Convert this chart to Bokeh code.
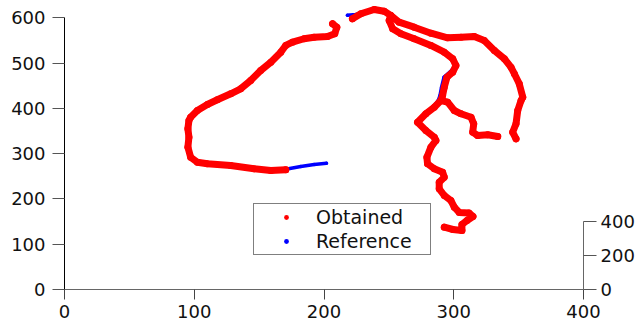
from bokeh.plotting import figure
from bokeh.models import Range1d, LinearAxis, FixedTicker, Legend, LegendItem
from bokeh.embed import file_html
from bokeh.resources import INLINE

# ---- data ----
x_ticks = [0, 100, 200, 300, 400]
y_ticks = [0, 100, 200, 300, 400, 500, 600]
y2_ticks = [0, 200, 400]

obt_left_x = [206.6, 209.9, 208.3, 202.7, 192.4, 184.6, 175.7, 170.5, 166.7, 159.0, 151.2, 143.5, 135.8, 128.1,
              117.8, 110.1, 102.4, 97.2, 95.9, 95.1, 95.9, 95.1, 97.2, 102.4, 110.1, 128.1, 146.1, 159.0, 170.5]
obt_left_y = [586.8, 579.3, 564.7, 558.7, 557.2, 553.7, 546.2, 538.9, 524.1, 502.0, 483.7, 461.6, 443.2, 432.2,
              418.9, 408.6, 395.3, 380.5, 373.2, 354.9, 336.4, 314.3, 292.2, 281.1, 277.6, 273.9, 266.6, 262.8, 264.4]

obt_outer_x = [221.9, 228.4, 238.7, 246.4, 251.5, 257.9, 269.5, 282.4, 295.3, 305.6, 315.8, 323.5, 331.3, 339.0,
               344.1, 346.7, 350.5, 353.2, 351.9, 349.3, 348.0, 345.4, 348.0]
obt_outer_y = [597.8, 608.9, 618.4, 614.6, 605.1, 590.3, 579.3, 566.0, 555.9, 557.2, 558.7, 549.9, 527.8, 509.5,
               490.9, 476.4, 454.3, 424.7, 417.4, 395.3, 365.9, 347.4, 332.8]

obt_inner_x = [251.5, 250.2, 252.9, 259.3, 269.5, 282.4, 292.7, 299.2, 301.7, 299.2, 294.8, 292.7, 291.4, 290.1,
               285.0, 278.5, 272.1, 278.5, 285.0, 286.3, 282.4, 279.3, 279.8, 285.0, 291.4, 292.7, 288.8, 288.8,
               292.7, 297.8, 300.4, 304.2, 311.7, 314.8, 310.2, 306.3, 306.3, 299.4, 292.7]
obt_inner_y = [605.1, 594.1, 575.8, 564.7, 553.7, 538.9, 524.1, 509.5, 494.7, 479.9, 468.9, 446.8, 428.4, 417.4,
               402.6, 388.0, 369.5, 351.1, 336.4, 329.1, 314.3, 292.2, 277.6, 266.6, 259.1, 248.0, 237.0, 222.4,
               207.6, 196.6, 181.8, 170.1, 168.9, 161.2, 152.4, 143.6, 130.3, 132.5, 137.6]

obt_branch_x = [290.1, 295.3, 300.4, 305.6, 313.3, 315.4, 314.6, 318.4, 326.2, 333.9]
obt_branch_y = [417.4, 413.7, 395.3, 388.0, 380.5, 365.9, 347.4, 340.1, 341.6, 337.9]

ref_left_x = [206.6, 209.9, 208.3, 202.7, 192.4, 184.6, 175.7, 170.5, 166.2, 158.3, 150.5, 142.8, 135.0, 127.3,
              117.0, 109.3, 101.6, 96.4, 95.0, 94.4, 95.2, 94.6, 97.0, 102.4, 110.1, 128.1, 146.1, 159.0, 170.5,
              182.1, 192.4, 201.9]
ref_left_y = [586.8, 579.3, 564.7, 558.7, 557.2, 553.7, 546.2, 538.9, 524.8, 502.9, 484.6, 462.5, 444.1, 433.1,
              419.8, 409.5, 396.2, 381.4, 373.2, 354.9, 336.4, 314.3, 292.2, 281.1, 277.6, 273.9, 266.6, 262.8, 265.5,
              271.6, 276.1, 278.9]

ref_outer_x = [218.1, 224.5, 229.9, 238.7, 246.4, 251.5, 257.9, 269.5, 282.4, 295.3, 305.6, 315.8, 323.5, 331.3,
               339.0, 344.1, 346.7, 350.5, 353.2, 351.9, 349.3, 348.0, 345.4, 348.0]
ref_outer_y = [605.8, 607.3, 610.6, 618.4, 614.6, 605.1, 590.3, 579.3, 566.0, 555.9, 557.2, 558.7, 549.9, 527.8,
               509.5, 490.9, 476.4, 454.3, 424.7, 417.4, 395.3, 365.9, 347.4, 332.8]

ref_inner_x = [251.5, 250.2, 252.9, 259.3, 269.5, 282.4, 292.7, 299.2, 301.7, 297.0, 292.5, 290.6, 289.4, 288.0,
               284.0, 278.0, 271.2, 278.5, 285.5, 287.0, 282.4, 279.3, 279.8, 285.0, 291.4, 292.7, 288.8, 288.8,
               292.7, 297.8, 300.4, 304.2, 311.7, 314.8, 310.2, 306.3, 306.3, 299.4, 292.7]
ref_inner_y = [605.1, 594.1, 575.8, 564.7, 553.7, 538.9, 524.1, 509.5, 494.7, 479.9, 468.9, 446.8, 428.4, 417.4,
               402.6, 388.0, 369.5, 351.1, 336.4, 329.1, 314.3, 292.2, 277.6, 266.6, 259.1, 248.0, 237.0, 222.4,
               207.6, 196.6, 181.8, 170.1, 168.9, 161.2, 152.4, 143.6, 130.3, 132.5, 137.6]

ref_branch_x = [290.1, 295.3, 300.4, 305.6, 313.3, 314.6, 314.0, 318.4, 326.2, 333.9]
ref_branch_y = [417.4, 413.7, 395.3, 388.0, 380.5, 365.9, 347.4, 340.1, 341.6, 337.9]

# ---- figure ----
FONT = "DejaVu Sans"
FRAME_H = 285
Y_END = 600 * FRAME_H / 271.7        # leaves room above the 600 tick for the traces
Y2_END = 400 * FRAME_H / 68.0        # small secondary axis at the right

p = figure(width=639, height=327, x_range=Range1d(0, 400), y_range=Range1d(0, Y_END),
           output_backend="svg", toolbar_location=None,
           min_border_left=64, min_border_right=56, min_border_top=327 - 38 - FRAME_H, min_border_bottom=38)
p.grid.visible = False
p.outline_line_color = None
p.background_fill_color = "white"
p.border_fill_color = "white"


def style_axis(ax, ticks, bounds, tick_out, standoff, line_color, tick_color):
    ax.ticker = FixedTicker(ticks=ticks)
    ax.bounds = bounds
    ax.major_tick_out = tick_out
    ax.major_tick_in = 0
    ax.minor_tick_line_color = None
    ax.axis_line_color = line_color
    ax.axis_line_width = 1
    ax.major_tick_line_color = tick_color
    ax.major_tick_line_width = 1
    ax.major_label_standoff = standoff
    ax.major_label_text_font = FONT
    ax.major_label_text_font_size = "18px"
    ax.major_label_text_color = "#111111"


style_axis(p.xaxis[0], x_ticks, (0, 400), 10, 5, "#666666", "#444444")
style_axis(p.yaxis[0], y_ticks, (0, 600), 12, 7, "black", "#555555")

p.extra_y_ranges = {"right": Range1d(0, Y2_END)}
ax2 = LinearAxis(y_range_name="right")
style_axis(ax2, y2_ticks, (0, 400), 13, 4, "#666666", "#555555")
p.add_layout(ax2, "right")

# reference (blue) underneath
p.multi_line(xs=[ref_left_x, ref_outer_x, ref_inner_x, ref_branch_x],
             ys=[ref_left_y, ref_outer_y, ref_inner_y, ref_branch_y],
             line_color="#0000ff", line_width=3.5, line_cap="round", line_join="round")
ref_pts = p.scatter(x=ref_left_x + ref_outer_x + ref_inner_x + ref_branch_x,
                    y=ref_left_y + ref_outer_y + ref_inner_y + ref_branch_y,
                    size=3.5, fill_color="#0000ff", line_color=None)

# obtained (red) on top
p.multi_line(xs=[obt_left_x, obt_outer_x, obt_inner_x, obt_branch_x],
             ys=[obt_left_y, obt_outer_y, obt_inner_y, obt_branch_y],
             line_color="#ff0000", line_width=7, line_cap="round", line_join="round")
obt_pts = p.scatter(x=obt_left_x + obt_outer_x + obt_inner_x + obt_branch_x,
                    y=obt_left_y + obt_outer_y + obt_inner_y + obt_branch_y,
                    size=7, fill_color="#ff0000", line_color=None)

legend = Legend(items=[LegendItem(label="Obtained", renderers=[obt_pts]),
                       LegendItem(label="Reference", renderers=[ref_pts])],
                location=(189, 34), orientation="vertical",
                padding=2, spacing=2, margin=0,
                glyph_width=60, glyph_height=12, label_height=22, label_width=112, label_standoff=0,
                label_text_font=FONT, label_text_font_size="19px", label_text_color="#111111",
                border_line_color="black", border_line_width=1.2,
                background_fill_color="white", background_fill_alpha=1)
p.add_layout(legend, "center")

open("out.html", "w").write(file_html(p, INLINE))
